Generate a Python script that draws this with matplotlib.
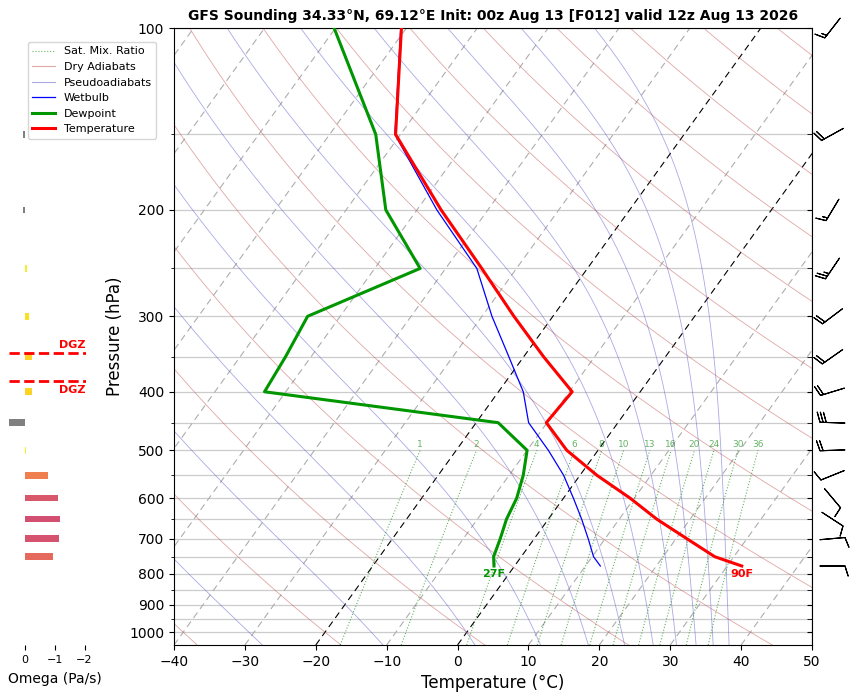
"""Skew-T sounding with omega bars and wind barbs."""

import numpy as np
import matplotlib

matplotlib.use("Agg")
import matplotlib.pyplot as plt
from matplotlib.lines import Line2D
from matplotlib.ticker import NullFormatter

TITLE = "GFS Sounding 34.33°N, 69.12°E Init: 00z Aug 13 [F012] valid 12z Aug 13 2026"

# --- sounding profile (surface first) ---
pressure = [777, 750, 700, 650, 600, 550, 500, 450, 400, 350, 300, 250, 200, 150, 100]
temperature = [32.05, 27.3, 21.5, 15.3, 9.4, 2.4, -4.4, -10.1, -9.6, -17.2,
               -25.5, -34.9, -46.6, -60.7, -70.7]
dewpoint = [-2.9, -3.9, -4.8, -5.9, -6.6, -8.0, -10.0, -16.9, -53.0, -53.6,
            -54.6, -43.6, -54.4, -63.5, -80.2]
wetbulb = [12.1, 10.2, 7.6, 4.7, 1.4, -2.3, -7.0, -12.6, -16.5, -22.1,
           -28.6, -35.6, -47.2, -60.8, -70.8]

# --- vertical velocity (Pa/s) ---
omega_p = [750, 700, 650, 600, 550, 500, 450, 400, 350, 300, 250, 200, 150, 100]
omega = [-0.95, -1.15, -1.18, -1.11, -0.79, -0.05, 0.52, -0.23, -0.23, -0.13,
         -0.06, 0.07, 0.05, 0.0]

# --- winds (direction from, knots) ---
wind_p = [777, 700, 650, 600, 550, 500, 450, 400, 350, 300, 250, 200, 150, 100]
wind_dir = [90, 85, 123, 140, 248, 268, 272, 253, 235, 233, 214, 211, 241, 218]
wind_spd = [10, 10, 10, 10, 10, 20, 30, 20, 20, 20, 25, 15, 20, 15]

# --- background lines ---
mixing_ratios = [1, 2, 4, 6, 8, 10, 13, 16, 20, 24, 30, 36]   # g/kg
dry_thetas = np.arange(-40, 241, 20)                           # degC
moist_thetas = np.arange(-50, 171, 20)                         # degC
isotherms = np.arange(-100, 51, 10)
dgz_temps = [-12, -18]

P_BOT, P_TOP = 1050.0, 100.0
SKEW = np.tan(np.radians(34.9)) * 90.0


def skew_x(t, p):
    """Temperature -> skewed x coordinate."""
    p = np.asarray(p, dtype=float)
    return np.asarray(t, dtype=float) + SKEW * np.log(P_BOT / p) / np.log(P_BOT / P_TOP)


def mixing_ratio_dewpoint(w, p):
    e = w * p / (622.0 + w)
    a = np.log(e / 6.112)
    return 243.5 * a / (17.67 - a)


def pseudo_adiabat(theta_c, p):
    """Integrate a saturated adiabat down from the top pressure."""
    rd, cp, lv, eps = 287.04, 1005.7, 2.501e6, 0.622

    def dtdp(t, pp):
        es = 6.112 * np.exp(17.67 * (t - 273.15) / (t - 29.65))
        r = eps * es / (pp - es)
        return (rd * t + lv * r) / (cp + lv * lv * r * eps / (rd * t * t)) / pp

    t = (theta_c + 273.15) * (p[0] / 1000.0) ** (rd / cp)
    out = [t]
    for p0, p1 in zip(p[:-1], p[1:]):
        h = p1 - p0
        k1 = dtdp(t, p0)
        k2 = dtdp(t + 0.5 * h * k1, p0 + 0.5 * h)
        k3 = dtdp(t + 0.5 * h * k2, p0 + 0.5 * h)
        k4 = dtdp(t + h * k3, p1)
        t = t + h * (k1 + 2 * k2 + 2 * k3 + k4) / 6.0
        out.append(t)
    return np.array(out) - 273.15


fig = plt.figure(figsize=(8.53, 6.95), dpi=100)
bottom, height = 50 / 695, 617 / 695
ax = fig.add_axes([174 / 853, bottom, 638 / 853, height])
axo = fig.add_axes([9 / 853, bottom, 77 / 853, height])
axw = fig.add_axes([812 / 853, bottom, 41 / 853, height])

major_p = list(range(100, 1001, 100))
minor_p = list(range(150, 1000, 100))
for a in (ax, axo, axw):
    a.set_yscale("log")
    a.set_ylim(P_BOT, P_TOP)

# --- main skew-T ---
ax.set_xlim(-40, 50)
ax.set_yticks(major_p, labels=[str(p) for p in major_p])
ax.set_yticks(minor_p, minor=True)
ax.yaxis.set_minor_formatter(NullFormatter())
ax.set_xticks(range(-40, 51, 10))
ax.tick_params(labelsize=10)
ax.yaxis.grid(True, which="both", color="0.8", lw=0.9, zorder=0)
ax.set_axisbelow(True)

pp = np.geomspace(P_BOT, P_TOP, 120)
for t in isotherms:
    black = t in (0, -20)
    ax.plot(skew_x([t, t], [P_BOT, P_TOP]), [P_BOT, P_TOP],
            color="black" if black else "0.68", lw=0.8,
            ls=(0, (6, 4)), zorder=1)

for th in dry_thetas:
    tt = (th + 273.15) * (pp / 1000.0) ** 0.2857 - 273.15
    ax.plot(skew_x(tt, pp), pp, color="#c0504d", alpha=0.5, lw=0.6, zorder=1)

p_up = np.geomspace(P_TOP, P_BOT, 200)
for th in moist_thetas:
    tt = pseudo_adiabat(th, p_up)
    ax.plot(skew_x(tt, p_up), p_up, color="#5555cc", alpha=0.5, lw=0.6, zorder=1)

pm = np.geomspace(P_BOT, 500, 60)
for w in mixing_ratios:
    td = mixing_ratio_dewpoint(w, pm)
    ax.plot(skew_x(td, pm), pm, color="green", alpha=0.6, lw=0.8, ls=":", zorder=1)
    ax.annotate(str(w), (skew_x(td[-1], 500), 500), xytext=(0, 1),
                textcoords="offset points", color="green", alpha=0.6,
                fontsize=6.5, ha="center", va="bottom")

ax.plot(skew_x(wetbulb, pressure), pressure, color="blue", lw=0.9, zorder=3)
ax.plot(skew_x(dewpoint, pressure), pressure, color="#009600", lw=2.2, zorder=4)
ax.plot(skew_x(temperature, pressure), pressure, color="red", lw=2.2, zorder=5)

t_f = round(temperature[0] * 9 / 5 + 32)
td_f = round(dewpoint[0] * 9 / 5 + 32)
ax.annotate(f"{t_f}F", (skew_x(temperature[0], pressure[0]), pressure[0]),
            xytext=(0, -2), textcoords="offset points", ha="center", va="top",
            color="red", fontsize=8, fontweight="bold")
ax.annotate(f"{td_f}F", (skew_x(dewpoint[0], pressure[0]), pressure[0]),
            xytext=(0, -2), textcoords="offset points", ha="center", va="top",
            color="#009600", fontsize=8, fontweight="bold")

ax.set_xlabel("Temperature (°C)", fontsize=12)
ax.set_ylabel("Pressure (hPa)", fontsize=12)
ax.set_title(TITLE, fontsize=10, fontweight="bold")

handles = [
    Line2D([], [], color="green", alpha=0.6, lw=0.8, ls=":"),
    Line2D([], [], color="#c0504d", alpha=0.5, lw=0.8),
    Line2D([], [], color="#5555cc", alpha=0.5, lw=0.8),
    Line2D([], [], color="blue", lw=0.9),
    Line2D([], [], color="#009600", lw=2.2),
    Line2D([], [], color="red", lw=2.2),
]
labels = ["Sat. Mix. Ratio", "Dry Adiabats", "Pseudoadiabats", "Wetbulb",
          "Dewpoint", "Temperature"]
fig.legend(handles, labels, loc="upper left", fontsize=8,
           bbox_to_anchor=(28 / 853, 1 - 42 / 695), borderaxespad=0)

# --- omega panel ---
cmap = plt.get_cmap("plasma")
bar_colors = ["#808080" if w > 0 else cmap(1 - min(abs(w) / 2.5, 1.0)) for w in omega]
axo.barh(omega_p, omega, height=np.array(omega_p) * 0.025, color=bar_colors)
axo.set_xlim(0.53, -2.05)
axo.set_xticks([0, -1, -2])
axo.tick_params(axis="x", labelsize=8)
axo.tick_params(axis="y", which="both", left=False, labelleft=False)
for s in axo.spines.values():
    s.set_visible(False)
axo.set_xlabel("Omega (Pa/s)", fontsize=10)
axo.xaxis.set_label_coords(0.6, -0.044)

# dendritic growth zone from the temperature profile aloft
seg_t = -np.array(temperature[8:])
seg_lp = np.log(np.array(pressure[8:], dtype=float))
for i, tz in enumerate(dgz_temps):
    pz = np.exp(np.interp(-tz, seg_t, seg_lp))
    axo.axhline(pz, color="red", ls="--", lw=2)
    axo.annotate("DGZ", (0.99, pz), xycoords=axo.get_yaxis_transform(),
                 xytext=(0, -3 if i == 0 else 2), textcoords="offset points",
                 color="red", fontsize=8, fontweight="bold", ha="right",
                 va="top" if i == 0 else "bottom")

# --- wind barbs ---
wd = np.radians(wind_dir)
u = -np.array(wind_spd) * np.sin(wd)
v = -np.array(wind_spd) * np.cos(wd)
axw.set_xlim(0, 1)
axw.barbs(np.full(len(wind_p), 0.5), wind_p, u, v, length=6, pivot="middle",
          lw=0.8, clip_on=False)
axw.set_yticks(major_p)
axw.set_yticks(minor_p, minor=True)
axw.yaxis.set_major_formatter(NullFormatter())
axw.yaxis.set_minor_formatter(NullFormatter())
axw.tick_params(axis="y", which="minor", length=3.5)
axw.set_xticks([])
for side in ("top", "right", "bottom"):
    axw.spines[side].set_visible(False)

fig.savefig("out.png", dpi=100)
plt.close(fig)
